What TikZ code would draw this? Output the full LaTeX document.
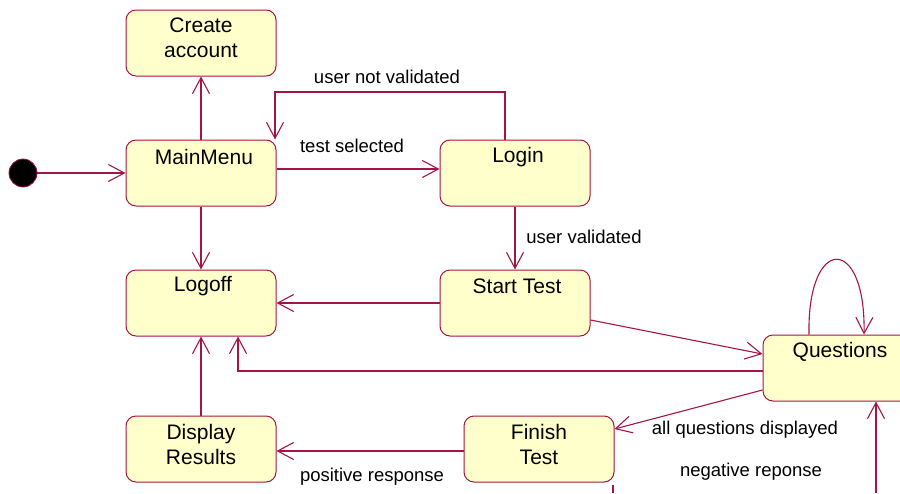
\documentclass[tikz,border=0pt]{standalone}
\usepackage{fontspec}
\setmainfont{Liberation Sans}
\usetikzlibrary{arrows.meta}
\definecolor{lc}{RGB}{165,20,70}
\definecolor{fc}{RGB}{255,255,204}
\begin{document}
\begin{tikzpicture}[x=1pt,y=-1pt,
  statebox/.style={draw=lc,fill=fc,line width=1pt,rounded corners=10pt,minimum width=150pt,minimum height=66pt,inner sep=0pt},
  ttl/.style={font=\fontsize{21}{25}\selectfont,align=center,inner sep=0pt},
  lbl/.style={font=\fontsize{18.5}{22}\selectfont,inner sep=0pt},
  conn/.style={draw=lc,line width=1.1pt,-{Straight Barb[length=16pt,width=17pt,line width=1.1pt]}},
  plain/.style={draw=lc,line width=1.1pt}]
\useasboundingbox (0,0) rectangle (900,493);
\clip (0,0) rectangle (900,493);
% states
\node[statebox] (ca) at (201,43) {};
\node[ttl] at ([yshift=5pt]ca.center) {Create\\account};
\node[statebox] (mm) at (201,173) {};
\node[ttl] at ([xshift=3pt,yshift=-17pt]mm.north) {MainMenu};
\node[statebox] (login) at (515,173) {};
\node[ttl] at ([xshift=3pt,yshift=-18pt]login.north) {Login};
\node[statebox] (lo) at (201,303) {};
\node[ttl] at ([xshift=2pt,yshift=-17pt]lo.north) {Logoff};
\node[statebox] (st) at (515,303) {};
\node[ttl] at ([xshift=2pt,yshift=-17pt]st.north) {Start Test};
\node[statebox] (q) at (838,368) {};
\node[ttl] at ([xshift=2pt,yshift=-17pt]q.north) {Questions};
\node[statebox] (dr) at (201,449) {};
\node[ttl] at ([yshift=5pt]dr.center) {Display\\Results};
\node[statebox] (ft) at (539,449) {};
\node[ttl] at ([yshift=5pt]ft.center) {Finish\\Test};
% initial
\node[circle,fill=black,draw=lc,line width=0.8pt,minimum size=28pt,inner sep=0pt] (init) at (23,173) {};
% coordinates
\coordinate (unv) at (275,92);
\coordinate (neg) at (876,493);
\coordinate (stubtop) at (613,485);
\coordinate (stubbot) at (613,493);
% connectors
\draw[conn] (init) -- (mm.west);
\draw[conn] (mm.north) -- (ca.south);
\draw[conn] ([yshift=4pt]mm.east) -- ([yshift=4pt]login.west);
\draw[conn] ([xshift=-10pt]login.north) |- (unv) -- (unv |- mm.north);
\draw[conn] (login.south) -- (st.north);
\draw[conn] (mm.south) -- (lo.north);
\draw[conn] (st.west) -- (lo.east);
\draw[conn] ([yshift=-17pt]st.east) -- ([yshift=14pt]q.west);
\draw[conn] ([yshift=-3pt]q.west) -| ([xshift=37pt]lo.south);
\draw[conn] ([xshift=-29pt]q.north) .. controls ([xshift=-31pt,yshift=100pt]q.north) and ([xshift=28pt,yshift=100pt]q.north) .. ([xshift=26pt]q.north);
\draw[conn] ([yshift=-22pt]q.west) -- ([yshift=20pt]ft.east);
\draw[conn] ([yshift=-2pt]ft.west) -- ([yshift=-2pt]dr.east);
\draw[conn] (dr.north) -- (lo.south);
\draw[conn] (neg) -- (neg |- q.south);
\draw[plain] (stubtop) -- (stubbot);
% labels
\node[lbl] at (387,77) {user not validated};
\node[lbl] at (352,146) {test selected};
\node[lbl] at (584,237) {user validated};
\node[lbl] at (745,430) {all questions displayed};
\node[lbl] at (751,472) {negative reponse};
\node[lbl] at (372,477) {positive response};
\end{tikzpicture}
\end{document}
